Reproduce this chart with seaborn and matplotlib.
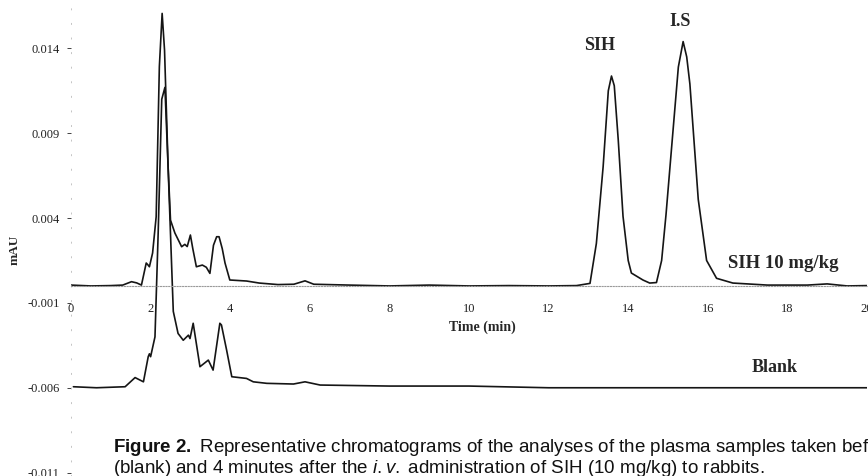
import matplotlib
matplotlib.use("Agg")
import matplotlib.pyplot as plt
import seaborn as sns
import pandas as pd

# ---- data ----
sample_time = [0.0, 0.5, 1.0, 1.3, 1.52, 1.65, 1.77, 1.89, 1.93, 1.97, 2.05, 2.14, 2.22, 2.29,
               2.35, 2.44, 2.50, 2.61, 2.78, 2.86, 2.92, 3.00, 3.06, 3.15, 3.30, 3.40, 3.49,
               3.58, 3.66, 3.72, 3.80, 3.87, 3.99, 4.41, 4.73, 5.2, 5.6, 5.88, 6.1, 7.0, 8.0,
               9.0, 10.0, 11.0, 12.0, 12.7, 13.04, 13.2, 13.37, 13.50, 13.58, 13.65, 13.75,
               13.87, 14.0, 14.08, 14.37, 14.54, 14.71, 14.84, 14.95, 15.05, 15.26, 15.38,
               15.47, 15.55, 15.76, 15.97, 16.22, 16.63, 17.5, 18.5, 19.0, 19.5, 20.0]
sample_mau = [0.00005, 0.0, 0.00002, 0.00005, 0.00025, 0.00018, 0.00005, 0.00135, 0.00125,
              0.00113, 0.00194, 0.00408, 0.01292, 0.01606, 0.0139, 0.00702, 0.00388, 0.00312,
              0.00231, 0.00245, 0.00232, 0.0030, 0.0022, 0.00113, 0.00123, 0.00110, 0.00074,
              0.0024, 0.0029, 0.0029, 0.0022, 0.00135, 0.00035, 0.00029, 0.00017, 0.00008,
              0.0001, 0.0003, 0.0001, 0.00005, 0.0, 0.00005, 0.0, 0.00002, 0.0, 0.00002,
              0.00015, 0.0025, 0.00702, 0.0115, 0.01237, 0.0118, 0.0086, 0.0041, 0.0015,
              0.00076, 0.00035, 0.00017, 0.0002, 0.0015, 0.0042, 0.00702, 0.0129, 0.0144,
              0.0135, 0.0119, 0.0051, 0.0015, 0.00045, 0.00017, 0.00005, 0.00005, 0.00012,
              0.0, 0.00002]

blank_time = [0.06, 0.64, 1.36, 1.61, 1.82, 1.94, 1.97, 2.00, 2.11, 2.19, 2.28, 2.36, 2.44,
              2.53, 2.57, 2.69, 2.82, 2.95, 2.99, 3.07, 3.24, 3.45, 3.57, 3.74, 3.78, 3.91,
              4.04, 4.41, 4.58, 4.92, 5.59, 5.88, 6.26, 8.0, 10.0, 12.0, 14.0, 16.0, 18.0, 20.0]
blank_mau = [-0.00594, -0.0060, -0.00594, -0.0054, -0.00565, -0.00417, -0.0040, -0.00417,
             -0.0030, 0.0031, 0.0110, 0.0117, 0.0070, 0.0011, -0.0015, -0.0028, -0.0032,
             -0.0029, -0.0031, -0.0022, -0.00476, -0.00437, -0.00496, -0.0022, -0.0023,
             -0.00378, -0.00535, -0.00545, -0.00565, -0.00574, -0.00578, -0.00565, -0.00584,
             -0.0059, -0.0059, -0.0060, -0.0060, -0.0060, -0.0060, -0.0060]

x_ticks = [0, 2, 4, 6, 8, 10, 12, 14, 16, 18, 20]
x_ticklabels = ["0", "2", "4", "6", "8", "10", "12", "14", "16", "18", "20"]
y_ticks = [0.014, 0.009, 0.004, -0.001, -0.006, -0.011]
y_ticklabels = ["0.014", "0.009", "0.004", "-0.001", "-0.006", "-0.011"]

trace_labels = ["SIH 10 mg/kg", "Blank"]
peak_labels = ["SIH", "I.S"]

caption = (r"$\mathbf{Figure\ 2.}$ Representative chromatograms of the analyses of the plasma samples taken before"
           "\n"
           r"(blank) and 4 minutes after the $\mathit{i.v.}$ administration of SIH (10 mg/kg) to rabbits.")

df = pd.concat([
    pd.DataFrame({"time": sample_time, "mAU": sample_mau, "trace": trace_labels[0]}),
    pd.DataFrame({"time": blank_time, "mAU": blank_mau, "trace": trace_labels[1]}),
])

# ---- style ----
sns.set_theme(style="white")
plt.rcParams["font.family"] = ["Liberation Serif", "DejaVu Serif"]
plt.rcParams["mathtext.fontset"] = "custom"
plt.rcParams["mathtext.rm"] = "Liberation Sans"
plt.rcParams["mathtext.bf"] = "Liberation Sans:bold"
plt.rcParams["mathtext.it"] = "Liberation Sans:italic"

W, H = 868, 476
fig = plt.figure(figsize=(W / 100, H / 100), dpi=100)
ax = fig.add_axes([71 / W, 0, 796 / W, 1])

sns.lineplot(data=df, x="time", y="mAU", hue="trace", units="trace", estimator=None,
             sort=False, palette=["#151515", "#151515"], legend=False, lw=1.2, ax=ax)

ax.set_xlim(0, 20)
ax.set_ylim(-0.0112, 0.01685)

for s in ["top", "right"]:
    ax.spines[s].set_visible(False)
ax.spines["bottom"].set_position(("data", 0))
ax.spines["bottom"].set_linestyle((0, (1, 1.5)))
ax.spines["bottom"].set_color("#9a9a9a")
ax.spines["bottom"].set_linewidth(0.8)
ax.spines["left"].set_linestyle((0, (1, 14)))
ax.spines["left"].set_color("#c4c4c4")
ax.spines["left"].set_linewidth(0.7)

ax.set_xticks(x_ticks)
ax.set_xticklabels(x_ticklabels, fontsize=9)
ax.tick_params(axis="x", length=0, pad=12, colors="#222222")
ax.set_yticks(y_ticks)
ax.set_yticklabels(y_ticklabels, fontsize=9)
ax.tick_params(axis="y", length=3, width=0.6, pad=5, colors="#222222", left=True)
ax.set_xlabel("")
ax.set_ylabel("")

ax.text(10.33, -0.00242, "Time (min)", fontsize=10, fontweight="bold", ha="center", va="center")
ax.text(13.29, 0.01419, peak_labels[0], fontsize=13, fontweight="bold", ha="center", va="center")
ax.text(15.30, 0.0156, peak_labels[1], fontsize=13, fontweight="bold", ha="center", va="center")
ax.text(17.89, 0.00135, trace_labels[0], fontsize=13.5, fontweight="bold", ha="center", va="center")
ax.text(17.69, -0.00483, trace_labels[1], fontsize=13, fontweight="bold", ha="center", va="center")

fig.text(15 / W, 1 - 250 / H, "mAU", rotation=90, fontsize=9.5, fontweight="bold",
         ha="center", va="center")

fig.text(113 / W, 1 - 473 / H, caption, fontsize=13.5, family="Liberation Sans",
         ha="left", va="baseline", color="#111111", linespacing=1.0)

fig.savefig("out.png", dpi=100)
